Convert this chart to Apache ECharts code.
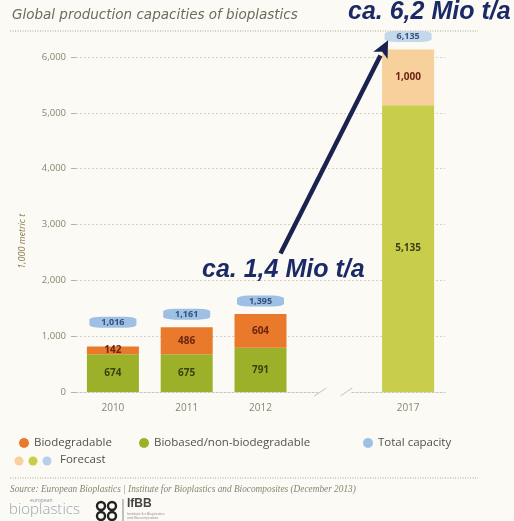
<!DOCTYPE html>
<html>
<head>
<meta charset="utf-8">
<title>Global production capacities of bioplastics</title>
<script src="https://cdn.jsdelivr.net/npm/echarts@6/dist/echarts.min.js"></script>
<style>
  html, body { margin: 0; padding: 0; background: #fbfaf5; }
  #chart { width: 514px; height: 521px; }
</style>
</head>
<body>
<div id="chart"></div>
<script>
// Years on the x axis; the empty slot marks the gap between 2012 and 2017
const categories = ['2010', '2011', '2012', '', '2017'];
// Capacities in 1,000 metric tonnes
const biobased = [674, 675, 791, null, 5135];
const biodegradable = [142, 486, 604, null, 1000];
const totals = [1016, 1161, 1395, null, 6135];
// Index of the forecast year
const forecastIndex = 4;
// Value axis range
const yMin = 0;
const yMax = 6000;
const yStep = 1000;
const yUnit = '1,000 metric t';

const C = {
  orange: '#e97a2c',
  green: '#9cb02a',
  blue: '#86b2e0',
  orangeF: '#f8d09c',
  greenF: '#c8cd4c',
  blueF: '#b6cfea',
  navy: '#1b2a66',
  axisText: '#8a8470',
  grid: '#d6d1c4',
  bg: '#fbfaf5'
};

const fmt = v => Number(v).toLocaleString('en-US');

function withForecast(arr, color) {
  return arr.map((v, i) => {
    if (v == null) return null;
    return i === forecastIndex ? { value: v, itemStyle: { color: color } } : v;
  });
}

const chart = echarts.init(document.getElementById('chart'), null, { renderer: 'canvas' });

const legendText = { color: '#555045', fontSize: 11.5, fontFamily: 'Open Sans' };
const legendBase = {
  top: 432, icon: 'circle', itemWidth: 10, itemHeight: 10, itemGap: 6,
  textStyle: legendText, selectedMode: false
};

chart.setOption({
  backgroundColor: C.bg,
  animation: false,
  textStyle: { fontFamily: 'Open Sans' },
  grid: { left: 76, right: 69, top: 57, bottom: 129 },
  legend: [
    Object.assign({}, legendBase, { left: 14, data: ['Biodegradable'] }),
    Object.assign({}, legendBase, { left: 134, data: ['Biobased/non-biodegradable'] }),
    Object.assign({}, legendBase, { left: 358, data: ['Total capacity'] })
  ],
  xAxis: {
    type: 'category',
    data: categories,
    axisLine: { show: true, lineStyle: { color: '#c8c2b2', type: [2, 2], width: 1 } },
    axisTick: { show: false },
    axisLabel: { color: C.axisText, fontSize: 10, margin: 11 }
  },
  yAxis: {
    type: 'value',
    min: yMin,
    max: yMax,
    interval: yStep,
    axisLine: { show: false },
    axisTick: { show: true, length: 5, lineStyle: { color: '#b8b2a2' } },
    axisLabel: { color: C.axisText, fontSize: 9.5, margin: 10, formatter: v => fmt(v) },
    splitLine: { show: true, lineStyle: { color: C.grid, type: [2, 2] } }
  },
  series: [
    {
      name: 'Biobased/non-biodegradable',
      type: 'bar',
      stack: 'capacity',
      barWidth: 52,
      clip: false,
      itemStyle: { color: C.green },
      label: {
        show: true, position: 'inside', formatter: p => fmt(p.value),
        color: '#3c4012', fontSize: 10, fontWeight: 'bold'
      },
      data: withForecast(biobased, C.greenF)
    },
    {
      name: 'Biodegradable',
      type: 'bar',
      stack: 'capacity',
      barWidth: 52,
      clip: false,
      itemStyle: { color: C.orange },
      label: {
        show: true, position: 'inside', formatter: p => fmt(p.value),
        color: '#6a2412', fontSize: 10, fontWeight: 'bold'
      },
      data: withForecast(biodegradable, C.orangeF)
    },
    {
      name: 'Total capacity',
      type: 'scatter',
      clip: false,
      z: 5,
      symbol: 'roundRect',
      symbolSize: [47, 11],
      symbolOffset: [0, -13],
      itemStyle: { color: C.blue },
      label: {
        show: true, position: 'inside', formatter: p => fmt(p.value),
        color: '#1c3262', fontSize: 9, fontWeight: 'bold'
      },
      data: withForecast(totals, C.blueF)
    }
  ]
});

// Annotations that follow the axes: arrow, axis break, unit label, forecast legend, footer
function drawAnnotations() {
  const px = (cat, val) => chart.convertToPixel({ xAxisIndex: 0, yAxisIndex: 0 }, [cat, val]);

  const a = px(2, 2480);
  const b = px(4, 6300);
  const start = [a[0] + 20, a[1]];
  const tip = [b[0] - 20, b[1]];
  const dx = tip[0] - start[0], dy = tip[1] - start[1];
  const len = Math.sqrt(dx * dx + dy * dy);
  const ux = dx / len, uy = dy / len;
  const headLen = 17, headW = 8;
  const base = [tip[0] - ux * headLen, tip[1] - uy * headLen];
  const head = [
    tip,
    [base[0] - uy * headW, base[1] + ux * headW],
    [base[0] + ux * 4, base[1] + uy * 4],
    [base[0] + uy * headW, base[1] - ux * headW]
  ];

  const brk = px(3, 0);
  const bx = brk[0], by = brk[1];
  const unitPos = px(0, 2700);

  const graphics = [
    // title and dotted rule
    {
      type: 'text', left: 12, top: 8,
      style: {
        text: 'Global production capacities of bioplastics',
        fill: '#6e6b58', font: 'italic 13.5px "DejaVu Sans"'
      }
    },
    {
      type: 'line', shape: { x1: 10, y1: 31, x2: 478, y2: 31 },
      style: { stroke: '#aaa391', lineWidth: 1, lineDash: [1, 1.5] }
    },
    // unit of the value axis
    {
      type: 'text', x: 22, y: unitPos[1], rotation: Math.PI / 2,
      style: {
        text: yUnit, fill: '#8c7a4e', font: 'italic 9px "Open Sans"',
        align: 'center', verticalAlign: 'middle'
      }
    },
    // callouts
    {
      type: 'text', left: 348, top: 0, z: 10,
      style: {
        text: 'ca. 6,2 Mio t/a', fill: C.navy,
        font: 'italic bold 25px "Liberation Sans", Arial'
      }
    },
    {
      type: 'text', left: 202, top: 258, z: 10,
      style: {
        text: 'ca. 1,4 Mio t/a', fill: C.navy,
        font: 'italic bold 25px "Liberation Sans", Arial'
      }
    },
    {
      type: 'line', z: 10,
      shape: { x1: start[0], y1: start[1], x2: base[0], y2: base[1] },
      style: { stroke: '#1a2350', lineWidth: 4.5 }
    },
    {
      type: 'polygon', z: 10,
      shape: { points: head },
      style: { fill: '#1a2350' }
    },
    // axis break
    {
      type: 'rect', z: 3,
      shape: { x: bx - 16, y: by - 2, width: 32, height: 4 },
      style: { fill: C.bg }
    },
    {
      type: 'line', z: 4,
      shape: { x1: bx - 20, y1: by + 4, x2: bx - 8, y2: by - 4 },
      style: { stroke: '#c8c2b2', lineWidth: 1 }
    },
    {
      type: 'line', z: 4,
      shape: { x1: bx + 6, y1: by + 4, x2: bx + 18, y2: by - 4 },
      style: { stroke: '#c8c2b2', lineWidth: 1 }
    },
    // forecast legend row
    { type: 'circle', shape: { cx: 19, cy: 461, r: 4.5 }, style: { fill: C.orangeF } },
    { type: 'circle', shape: { cx: 33, cy: 461, r: 4.5 }, style: { fill: C.greenF } },
    { type: 'circle', shape: { cx: 47, cy: 461, r: 4.5 }, style: { fill: C.blueF } },
    {
      type: 'text', left: 60, top: 454,
      style: { text: 'Forecast', fill: '#555045', font: '11.5px "Open Sans"' }
    },
    // footer
    {
      type: 'line', shape: { x1: 10, y1: 478, x2: 478, y2: 478 },
      style: { stroke: '#aaa391', lineWidth: 1, lineDash: [1, 1.5] }
    },
    {
      type: 'text', left: 10, top: 485,
      style: {
        text: 'Source: European Bioplastics | Institute for Bioplastics and Biocomposites (December 2013)',
        fill: '#8a8470', font: 'italic 9.3px "Liberation Serif"'
      }
    },
    {
      type: 'text', left: 30, top: 498,
      style: { text: 'european', fill: '#8b95a2', font: '5px "Open Sans"' }
    },
    {
      type: 'text', left: 9, top: 502,
      style: { text: 'bioplastics', fill: '#9aa5b3', font: '300 15px "Open Sans"' }
    },
    // IfBB mark
    { type: 'circle', shape: { cx: 101, cy: 506, r: 4 }, style: { fill: 'none', stroke: '#222', lineWidth: 2.4 } },
    { type: 'circle', shape: { cx: 112, cy: 506, r: 4 }, style: { fill: 'none', stroke: '#222', lineWidth: 2.4 } },
    { type: 'circle', shape: { cx: 101, cy: 516, r: 4 }, style: { fill: 'none', stroke: '#222', lineWidth: 2.4 } },
    { type: 'circle', shape: { cx: 112, cy: 516, r: 4 }, style: { fill: 'none', stroke: '#222', lineWidth: 2.4 } },
    {
      type: 'line', shape: { x1: 123, y1: 499, x2: 123, y2: 521 },
      style: { stroke: '#888', lineWidth: 1 }
    },
    {
      type: 'text', left: 127, top: 498,
      style: { text: 'IfBB', fill: '#444', font: 'bold 12px "Liberation Sans"' }
    },
    {
      type: 'text', left: 127, top: 512,
      style: { text: 'Institute for Bioplastics\nand Biocomposites', fill: '#888', font: '3.5px "Open Sans"' }
    }
  ];

  chart.setOption({ graphic: graphics });
}

drawAnnotations();
</script>
</body>
</html>
